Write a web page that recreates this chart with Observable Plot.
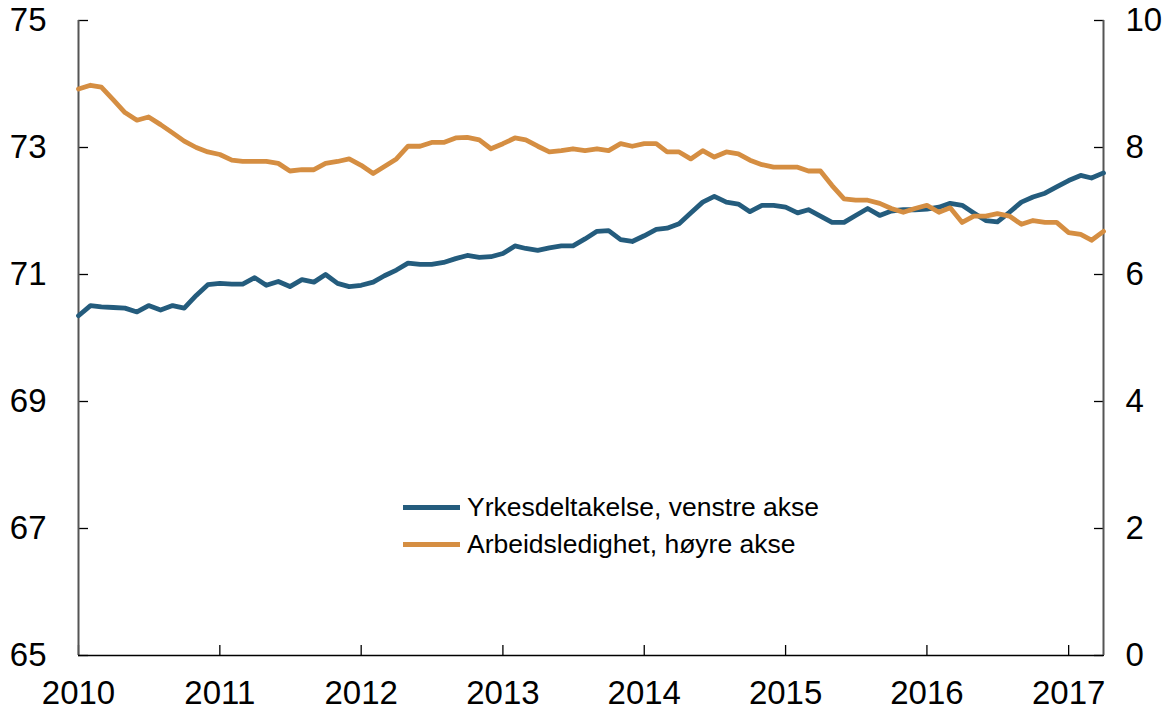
<!DOCTYPE html>
<html>
<head>
<meta charset="utf-8">
<script src="https://cdn.jsdelivr.net/npm/d3@7"></script>
<script src="https://cdn.jsdelivr.net/npm/@observablehq/plot@0.6"></script>
<style>
  html, body { margin: 0; padding: 0; background: #fff; }
  #wrap { position: relative; width: 1172px; height: 712px; font-family: "Liberation Sans", Arial, sans-serif; }
  .legend { position: absolute; left: 403px; top: 489px; font-size: 26.5px; color: #000; line-height: 37px; }
  .legend .row { display: flex; align-items: center; height: 37px; }
  .legend .sw { width: 57px; height: 5px; margin-right: 7px; }
</style>
</head>
<body>
<div id="wrap"></div>
<script>
// Monthly data, Jan 2010 – Apr 2017
const startYear = 2010;
const participation = [ // Yrkesdeltakelse, venstre akse (per cent)
  70.35, 70.51, 70.49, 70.48, 70.47, 70.41, 70.51, 70.44, 70.51, 70.47, 70.67, 70.84,
  70.86, 70.85, 70.85, 70.95, 70.83, 70.89, 70.81, 70.92, 70.88, 71.00, 70.86, 70.81,
  70.83, 70.88, 70.98, 71.07, 71.18, 71.16, 71.16, 71.19, 71.25, 71.30, 71.27, 71.28,
  71.33, 71.45, 71.41, 71.38, 71.42, 71.45, 71.45, 71.56, 71.68, 71.69, 71.55, 71.52,
  71.61, 71.71, 71.73, 71.80, 71.97, 72.14, 72.23, 72.14, 72.11, 71.99, 72.09, 72.09,
  72.06, 71.97, 72.02, 71.92, 71.82, 71.82, 71.93, 72.04, 71.93, 72.00, 72.02, 72.02,
  72.03, 72.06, 72.12, 72.09, 71.97, 71.85, 71.83, 71.98, 72.14, 72.22, 72.28, 72.38,
  72.48, 72.56, 72.52, 72.60
];
const unemployment = [ // Arbeidsledighet, høyre akse (per cent)
  8.92, 8.98, 8.95, 8.75, 8.55, 8.43, 8.48, 8.36, 8.23, 8.10, 8.00, 7.93,
  7.89, 7.80, 7.78, 7.78, 7.78, 7.75, 7.63, 7.65, 7.65, 7.75, 7.78, 7.82,
  7.72, 7.59, 7.70, 7.82, 8.02, 8.02, 8.08, 8.08, 8.15, 8.16, 8.12, 7.98,
  8.06, 8.15, 8.12, 8.02, 7.93, 7.95, 7.98, 7.95, 7.98, 7.95, 8.06, 8.02,
  8.06, 8.06, 7.93, 7.93, 7.82, 7.95, 7.85, 7.93, 7.90, 7.80, 7.73, 7.69,
  7.69, 7.69, 7.63, 7.63, 7.40, 7.19, 7.17, 7.17, 7.12, 7.04, 6.98, 7.04,
  7.09, 6.98, 7.05, 6.82, 6.92, 6.92, 6.96, 6.92, 6.79, 6.85, 6.82, 6.82,
  6.66, 6.63, 6.54, 6.68
];
const yearLabels = [2010, 2011, 2012, 2013, 2014, 2015, 2016, 2017];
const leftTicks = [65, 67, 69, 71, 73, 75];
const rightTicks = [0, 2, 4, 6, 8, 10];
const leftDomain = [65, 75];
const rightDomain = [0, 10];
const seriesNames = ["Yrkesdeltakelse, venstre akse", "Arbeidsledighet, høyre akse"];
const colors = ["#245c7d", "#d58e42"];

// right axis maps onto the left axis scale
const toLeft = r => leftDomain[0] + (r - rightDomain[0]) * (leftDomain[1] - leftDomain[0]) / (rightDomain[1] - rightDomain[0]);
const toRight = l => rightDomain[0] + (l - leftDomain[0]) * (rightDomain[1] - rightDomain[0]) / (leftDomain[1] - leftDomain[0]);

const dates = participation.map((_, i) => new Date(startYear, i, 1));
const bluePts = participation.map((v, i) => ({date: dates[i], value: v}));
const orangePts = unemployment.map((v, i) => ({date: dates[i], value: toLeft(v)}));
const xStart = dates[0];
const xEnd = dates[dates.length - 1];
const yearDates = yearLabels.map(y => new Date(y, 0, 1));

const chart = Plot.plot({
  width: 1172,
  height: 712,
  marginLeft: 78,
  marginRight: 69,
  marginTop: 20,
  marginBottom: 57,
  x: {type: "time", domain: [xStart, xEnd]},
  y: {domain: leftDomain},
  style: {fontFamily: "'Liberation Sans', Arial, sans-serif", fontSize: "33px", color: "#000", background: "#fff", overflow: "visible"},
  marks: [
    Plot.axisX(yearDates, {label: null, tickSize: -10, tickPadding: 35, tickFormat: d3.timeFormat("%Y"), fontSize: 33, strokeWidth: 1.3}),
    Plot.axisY(leftTicks, {anchor: "left", label: null, tickSize: -10, tickPadding: 42, fontSize: 33, strokeWidth: 1.3, tickFormat: d => String(d)}),
    Plot.axisY(rightTicks.map(toLeft), {anchor: "right", label: null, tickSize: -10, tickPadding: 32, fontSize: 33, strokeWidth: 1.3,
      tickFormat: d => String(Math.round(toRight(d)))}),
    Plot.ruleX([xStart], {x: d => d, stroke: "#555", strokeWidth: 2}),
    Plot.ruleX([xEnd], {x: d => d, stroke: "#555", strokeWidth: 2}),
    Plot.ruleY([leftDomain[0]], {y: d => d, stroke: "#000", strokeWidth: 1.5}),
    Plot.lineY(bluePts, {x: "date", y: "value", stroke: colors[0], strokeWidth: 4.8, strokeLinejoin: "round"}),
    Plot.lineY(orangePts, {x: "date", y: "value", stroke: colors[1], strokeWidth: 4.8, strokeLinejoin: "round"})
  ]
});

const wrap = document.getElementById("wrap");
wrap.appendChild(chart);

const legend = document.createElement("div");
legend.className = "legend";
seriesNames.forEach((name, i) => {
  const row = document.createElement("div");
  row.className = "row";
  const sw = document.createElement("div");
  sw.className = "sw";
  sw.style.background = colors[i];
  const lab = document.createElement("span");
  lab.textContent = name;
  row.appendChild(sw);
  row.appendChild(lab);
  legend.appendChild(row);
});
wrap.appendChild(legend);
</script>
</body>
</html>
